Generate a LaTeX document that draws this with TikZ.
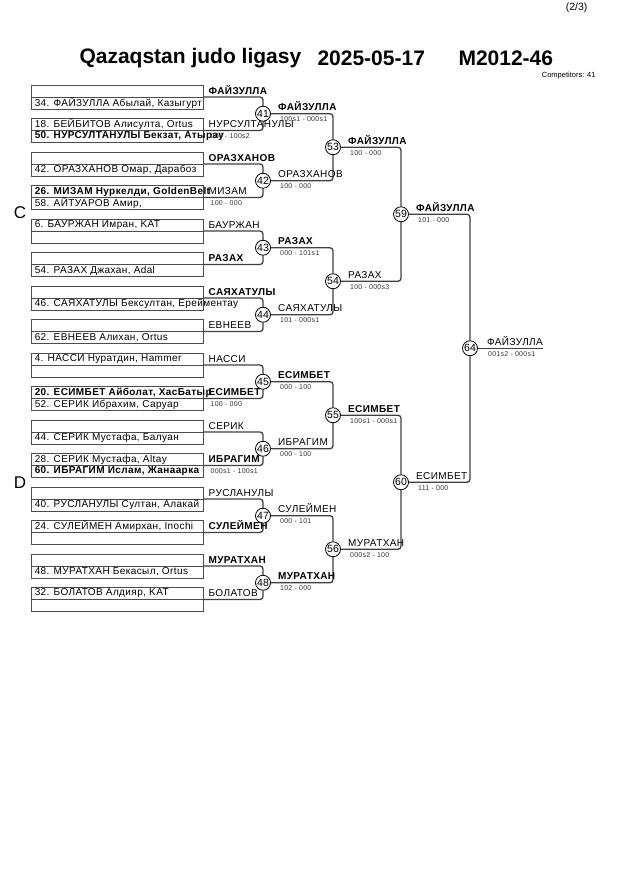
\documentclass[tikz,border=0pt]{standalone}
\usepackage{fontspec}
\setmainfont{Liberation Sans}
\newfontfamily\spaced[LetterSpace=4]{Liberation Sans}
\usetikzlibrary{positioning}

\begin{document}
\begin{tikzpicture}[x=1pt, y=1pt,
  slotbox/.style={draw=black!70, line width=0.9pt, minimum width=172pt, minimum height=24pt, inner sep=0pt},
  entrant/.style={font=\spaced\fontsize{10}{10}\selectfont, anchor=west, inner sep=0pt},
  winner/.style={font=\spaced\fontsize{10}{10}\selectfont, anchor=base west, inner sep=0pt},
  score/.style={font=\spaced\fontsize{7}{7}\selectfont, text=black!80, anchor=north west, inner sep=0pt},
  bout/.style={circle, draw, line width=0.8pt, fill=white, minimum size=15pt, inner sep=0pt, font=\fontsize{10.5}{10}\selectfont},
  bline/.style={draw=black!75, line width=1.3pt, rounded corners=3pt},
  pool/.style={font=\fontsize{17}{17}\selectfont},
]
\useasboundingbox (0,0) rectangle (630,-891);

% Header
\node[font=\fontsize{10.5}{12}\selectfont, anchor=east] (page) at (591,-8) {(2/3)};
\node[font=\bfseries\fontsize{21}{24}\selectfont, anchor=west] (ttl) at (76,-58) {Qazaqstan judo ligasy};
\node[font=\bfseries\fontsize{21}{24}\selectfont, anchor=west] (tdate) at (314,-58) {2025-05-17};
\node[font=\bfseries\fontsize{21}{24}\selectfont, anchor=west] (tcat) at (455,-58) {M2012-46};
\node[font=\fontsize{7.5}{8}\selectfont, anchor=east] (comp) at (599,-76) {Competitors: 41};

% Pools
\node[pool] (poolC) at (20,-213) {C};
\node[pool] (poolD) at (20,-483) {D};

% Bouts
\foreach \n [count=\k from 0] in {41,42,43,44,45,46,47,48}
  \node[bout] (c\n) at (263,{-113.75-67*\k}) {\n};
\foreach \n [count=\k from 0] in {53,54,55,56}
  \node[bout] (c\n) at (333,{-147.25-134*\k}) {\n};
\foreach \n [count=\k from 0] in {59,60}
  \node[bout] (c\n) at (401,{-214.25-268*\k}) {\n};
\node[bout] (c64) at (470,-348.25) {64};

% First column: entrants
\foreach \i/\ta/\tb/\w/\sc/\n in {
  0/{}/{34. ФАЙЗУЛЛА Абылай, Казыгурт}/{\bfseries ФАЙЗУЛЛА}/{}/41,
  1/{18. БЕЙБИТОВ Алисулта, Ortus}/{\bfseries 50. НУРСУЛТАНУЛЫ Бекзат, Атырау}/{НУРСУЛТАНУЛЫ}/{000 - 100s2}/41,
  2/{}/{42. ОРАЗХАНОВ Омар, Дарабоз}/{\bfseries ОРАЗХАНОВ}/{}/42,
  3/{\bfseries 26. МИЗАМ Нуркелди, GoldenBelt}/{58. АЙТУАРОВ Амир,}/{МИЗАМ}/{100 - 000}/42,
  4/{6. БАУРЖАН Имран, KAT}/{}/{БАУРЖАН}/{}/43,
  5/{}/{54. РАЗАХ Джахан, Adal}/{\bfseries РАЗАХ}/{}/43,
  6/{}/{46. САЯХАТУЛЫ Бексултан, Ерейментау}/{\bfseries САЯХАТУЛЫ}/{}/44,
  7/{}/{62. ЕВНЕЕВ Алихан, Ortus}/{ЕВНЕЕВ}/{}/44,
  8/{4. НАССИ Нуратдин, Hammer}/{}/{НАССИ}/{}/45,
  9/{\bfseries 20. ЕСИМБЕТ Айболат, ХасБатыр}/{52. СЕРИК Ибрахим, Саруар}/{\bfseries ЕСИМБЕТ}/{100 - 000}/45,
  10/{}/{44. СЕРИК Мустафа, Балуан}/{СЕРИК}/{}/46,
  11/{28. СЕРИК Мустафа, Altay}/{\bfseries 60. ИБРАГИМ Ислам, Жанаарка}/{\bfseries ИБРАГИМ}/{000s1 - 100s1}/46,
  12/{}/{40. РУСЛАНУЛЫ Султан, Алакай}/{РУСЛАНУЛЫ}/{}/47,
  13/{24. СУЛЕЙМЕН Амирхан, Inochi}/{}/{\bfseries СУЛЕЙМЕН}/{}/47,
  14/{}/{48. МУРАТХАН Бекасыл, Ortus}/{\bfseries МУРАТХАН}/{}/48,
  15/{32. БОЛАТОВ Алдияр, KAT}/{}/{БОЛАТОВ}/{}/48}{
  \node[slotbox] (b\i) at (117,{-97-33.5*\i}) {};
  \draw[draw=black!70, line width=0.9pt] (b\i.west) -- (b\i.east);
  \node[entrant] (ta\i) at ([xshift=4pt,yshift=6pt]b\i.west) {\ta};
  \node[entrant] (tb\i) at ([xshift=4pt,yshift=-6pt]b\i.west) {\tb};
  \draw[bline] (b\i.east) -| (c\n);
  \node[winner] (w\i) at ([xshift=5pt,yshift=3pt]b\i.east) {\w};
  \node[score] (r\i) at ([xshift=7pt,yshift=-3pt]b\i.east) {\sc};
}

% Later rounds
\foreach \a/\b in {41/53,42/53,43/54,44/54,45/55,46/55,47/56,48/56,53/59,54/59,55/60,56/60,59/64,60/64}
  \draw[bline] (c\a) -| (c\b);
\coordinate (fin) at (543,-348.25);
\draw[bline] (c64) -- (fin);

\foreach \n/\w/\sc in {
  41/{\bfseries ФАЙЗУЛЛА}/{100s1 - 000s1}, 42/{ОРАЗХАНОВ}/{100 - 000},
  43/{\bfseries РАЗАХ}/{000 - 101s1}, 44/{САЯХАТУЛЫ}/{101 - 000s1},
  45/{\bfseries ЕСИМБЕТ}/{000 - 100}, 46/{ИБРАГИМ}/{000 - 100},
  47/{СУЛЕЙМЕН}/{000 - 101}, 48/{\bfseries МУРАТХАН}/{102 - 000},
  53/{\bfseries ФАЙЗУЛЛА}/{100 - 000}, 54/{РАЗАХ}/{100 - 000s3},
  55/{\bfseries ЕСИМБЕТ}/{100s1 - 000s1}, 56/{МУРАТХАН}/{000s2 - 100},
  59/{\bfseries ФАЙЗУЛЛА}/{101 - 000}, 60/{ЕСИМБЕТ}/{111 - 000}}{
  \node[winner] (w\n) at ([xshift=7pt,yshift=3pt]c\n.east) {\w};
  \node[score] (r\n) at ([xshift=9pt,yshift=-3pt]c\n.east) {\sc};
}
\node[winner] (w64) at ([xshift=9pt,yshift=3pt]c64.east) {ФАЙЗУЛЛА};
\node[score] (r64) at ([xshift=10pt,yshift=-3pt]c64.east) {001s2 - 000s1};

\end{tikzpicture}
\end{document}
